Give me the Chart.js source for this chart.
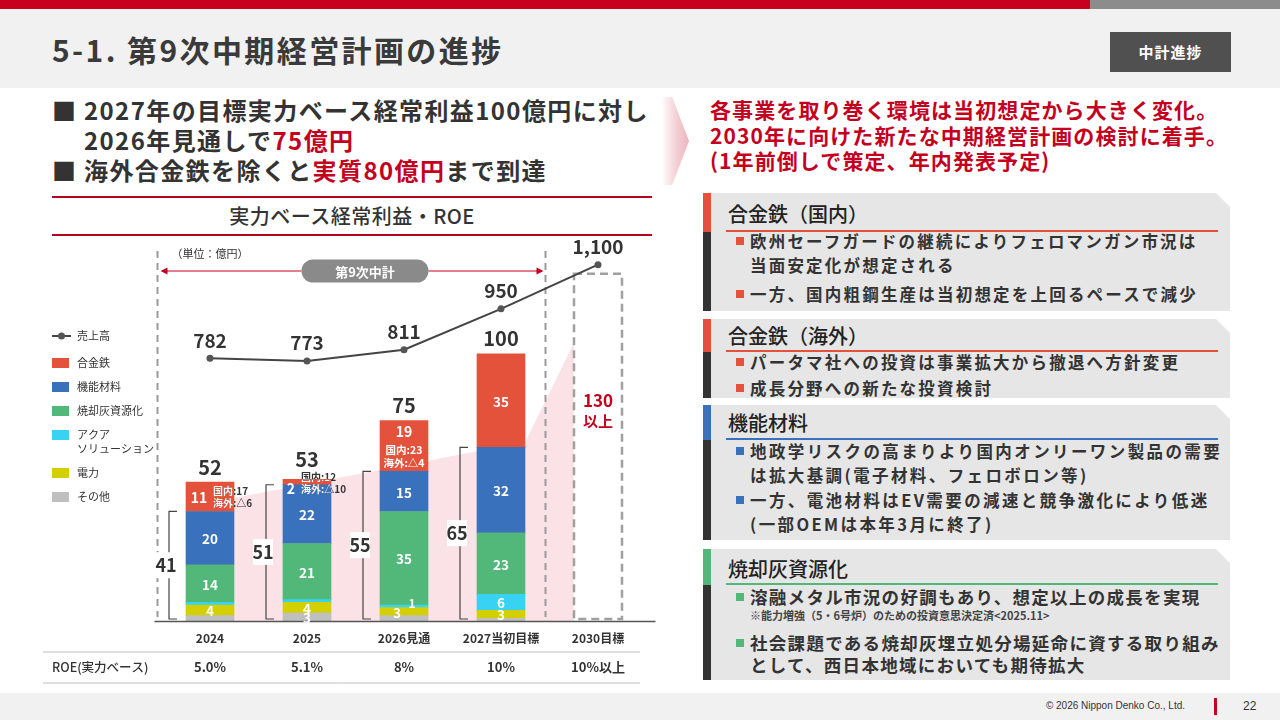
<!DOCTYPE html>
<html lang="ja">
<head>
<meta charset="utf-8">
<script src="https://cdn.jsdelivr.net/npm/chart.js@4.4.1/dist/chart.umd.min.js"></script>
<style>
* { margin: 0; padding: 0; box-sizing: border-box; }
body { width: 1280px; height: 720px; position: relative; overflow: hidden; background: #fff;
  font-family: "Noto Sans CJK JP", "Noto Sans", sans-serif; color: #333; }
.abs { position: absolute; }
.topbar { left: 0; top: 0; width: 1090px; height: 9px; background: #c8001e; }
.topbar2 { left: 1090px; top: 0; width: 190px; height: 9px; background: #8c8c8c; }
.header { left: 0; top: 9px; width: 1280px; height: 79px; background: #f1f1f1; }
.title { left: 52px; top: 29px; font-size: 30px; line-height: 40px; font-weight: 700; color: #3a3a3a; letter-spacing: 2.4px; }
.badge { left: 1110px; top: 32px; width: 121px; height: 40px; background: #505050; color: #fff;
  font-weight: 700; font-size: 15px; text-align: center; line-height: 40px; letter-spacing: 1px; }
.lead { left: 52px; top: 95px; font-size: 24px; line-height: 30px; font-weight: 700; color: #333; letter-spacing: 1.4px; }
.lead div { padding-left: 32px; position: relative; }
.lead .sq { position: absolute; left: 0; }
.red { color: #c4001f; }
.ctitle { left: 52px; top: 196px; width: 600px; height: 40px; border-top: 2px solid #b4001c;
  border-bottom: 2px solid #b4001c; text-align: center; font-size: 20px; line-height: 36px; font-weight: 500; letter-spacing: 0.5px; }
#chartBox { left: 40px; top: 235px; width: 625px; height: 460px; }
.chev { left: 661px; top: 97px; width: 28px; height: 88px;
  background: linear-gradient(90deg, #fff 0%, #f3d0d6 55%, #eeb3bd 100%);
  clip-path: polygon(0 0, 40% 0, 100% 50%, 40% 100%, 0 100%); }
.msg { left: 710px; top: 97px; font-size: 21px; line-height: 25.5px; font-weight: 700; color: #c4001f; letter-spacing: 1.1px; }
.card { left: 703px; width: 527px; background: #e6e6e6;
  clip-path: polygon(0 0, calc(100% - 14px) 0, 100% 14px, 100% 100%, 0 100%); }
.card .bar { position: absolute; left: 0; top: 0; width: 8px; height: 100%; }
.card .ch { position: absolute; left: 25px; height: 28px; line-height: 28px; font-size: 20px; font-weight: 500; color: #222; }
.card .ul { position: absolute; left: 23px; width: 492px; height: 0; border-top: 2px solid; }
.card .li { position: absolute; left: 47px; font-size: 16.5px; line-height: 24px; font-weight: 700; color: #333; letter-spacing: 2.2px; white-space: nowrap; }
.card .li i { position: absolute; left: -14px; top: 8px; width: 8px; height: 8px; }
.card .note { position: absolute; left: 47px; font-size: 11px; line-height: 14px; font-weight: 700; color: #444; white-space: nowrap; }
.footer { left: 0; top: 693px; width: 1280px; height: 27px; background: #f1f1f1; }
.copy { right: 95px; top: 699px; font-size: 10px; line-height: 14px; color: #333; font-family: "Liberation Sans", Arial, sans-serif; }
.pbar { left: 1214px; top: 698px; width: 3px; height: 17px; background: #c8001e; }
.pno { left: 1243px; top: 698px; font-size: 12px; line-height: 16px; color: #333; font-family: "Liberation Sans", Arial, sans-serif; }
</style>
</head>
<body>
<div class="abs topbar"></div>
<div class="abs topbar2"></div>
<div class="abs header"></div>
<div class="abs title">5-1. 第9次中期経営計画の進捗</div>
<div class="abs badge">中計進捗</div>

<div class="abs lead">
  <div><span class="sq">■</span>2027年の目標実力ベース経常利益100億円に対し</div>
  <div>2026年見通しで<span class="red">75億円</span></div>
  <div><span class="sq">■</span>海外合金鉄を除くと<span class="red">実質80億円</span>まで到達</div>
</div>

<div class="abs ctitle">実力ベース経常利益・ROE</div>
<div class="abs" id="chartBox"><canvas id="chart" width="625" height="460"></canvas></div>

<div class="abs chev"></div>
<div class="abs msg">各事業を取り巻く環境は当初想定から大きく変化。<br>2030年に向けた新たな中期経営計画の検討に着手。<br>(1年前倒しで策定、年内発表予定)</div>

<div class="abs card" style="top:193px;height:118px">
  <div class="bar" style="background:linear-gradient(#e5523b 0 39px,#333 39px)"></div>
  <div class="ch" style="top:7px">合金鉄（国内）</div>
  <div class="ul" style="top:37px;border-color:#e5523b"></div>
  <div class="li" style="top:36px"><i style="background:#e5523b"></i>欧州セーフガードの継続によりフェロマンガン市況は<br>当面安定化が想定される</div>
  <div class="li" style="top:89px"><i style="background:#e5523b"></i>一方、国内粗鋼生産は当初想定を上回るペースで減少</div>
</div>

<div class="abs card" style="top:319px;height:79px">
  <div class="bar" style="background:linear-gradient(#e5523b 0 33px,#333 33px)"></div>
  <div class="ch" style="top:3px">合金鉄（海外）</div>
  <div class="ul" style="top:31px;border-color:#e5523b"></div>
  <div class="li" style="top:31px"><i style="background:#e5523b"></i>パータマ社への投資は事業拡大から撤退へ方針変更</div>
  <div class="li" style="top:57px"><i style="background:#e5523b"></i>成長分野への新たな投資検討</div>
</div>

<div class="abs card" style="top:405px;height:135px">
  <div class="bar" style="background:linear-gradient(#3a71bd 0 35px,#333 35px)"></div>
  <div class="ch" style="top:4px">機能材料</div>
  <div class="ul" style="top:33px;border-color:#3a71bd"></div>
  <div class="li" style="top:34px;letter-spacing:2.4px"><i style="background:#3a71bd"></i>地政学リスクの高まりより国内オンリーワン製品の需要<br>は拡大基調(電子材料、フェロボロン等)</div>
  <div class="li" style="top:83px;letter-spacing:2.4px"><i style="background:#3a71bd"></i>一方、電池材料はEV需要の減速と競争激化により低迷<br>(一部OEMは本年3月に終了)</div>
</div>

<div class="abs card" style="top:549px;height:131px">
  <div class="bar" style="background:linear-gradient(#52b879 0 36px,#333 36px)"></div>
  <div class="ch" style="top:6px">焼却灰資源化</div>
  <div class="ul" style="top:34px;border-color:#52b879"></div>
  <div class="li" style="top:36px;font-size:17.5px;letter-spacing:1.3px"><i style="background:#52b879"></i>溶融メタル市況の好調もあり、想定以上の成長を実現</div>
  <div class="note" style="top:59px">※能力増強（5・6号炉）のための投資意思決定済&lt;2025.11&gt;</div>
  <div class="li" style="top:83px;line-height:22px;font-size:17.5px;letter-spacing:1.3px"><i style="background:#52b879;top:7px"></i>社会課題である焼却灰埋立処分場延命に資する取り組み<br>として、西日本地域においても期待拡大</div>
</div>

<div class="abs footer"></div>
<div class="abs copy">© 2026 Nippon Denko Co., Ltd.</div>
<div class="abs pbar"></div>
<div class="abs pno">22</div>

<script>
// 実力ベース経常利益（億円）と売上高
const categories = ['2024', '2025', '2026見通', '2027当初目標', '2030目標'];
const ferroalloy = [11, 2, 19, 35, null];
const functionalMaterials = [20, 22, 15, 32, null];
const ashRecycling = [14, 21, 35, 23, null];
const aquaSolution = [1, 1, 1, 6, null];
const power = [4, 4, 3, 3, null];
const others = [2, 3, 2, 1, null];
const target2030 = [null, null, null, null, 130];
const sales = [782, 773, 811, 950, 1100];
const baseLabels = [41, 51, 55, 65];
const ferroNotes = [['国内:17', '海外:△6'], ['国内:12', '海外:△10'], ['国内:23', '海外:△4'], null];
const roe = ['5.0%', '5.1%', '8%', '10%', '10%以上'];
const targetLabel = ['130', '以上'];
// pink growth band behind the bars: [category index, 億円]
const growthBand = [[0.25, 0], [0.25, 46], [3.25, 67], [3.75, 104], [3.75, 0]];

const FONT = "'Noto Sans CJK JP', 'Noto Sans', sans-serif";
Chart.defaults.font.family = FONT;

const barSeries = [
    { label: 'その他', data: others, color: '#bfbfbf' },
    { label: '電力', data: power, color: '#d4cf00' },
    { label: 'アクア\nソリューション', data: aquaSolution, color: '#38d3f2' },
    { label: '焼却灰資源化', data: ashRecycling, color: '#52b879' },
    { label: '機能材料', data: functionalMaterials, color: '#3a71bd' },
    { label: '合金鉄', data: ferroalloy, color: '#e5523b' }
];
const FERRO = barSeries.length;        // dataset index of 合金鉄 (line is 0)
const TARGET = barSeries.length + 1;

function txt(ctx, s, x, y, size, color, align, weight) {
    ctx.font = `${weight || 'bold'} ${size}px ${FONT}`;
    ctx.fillStyle = color;
    ctx.textAlign = align || 'center';
    ctx.textBaseline = 'middle';
    ctx.fillText(s, x, y);
}

// white inside the bar, dark where the text runs off it
function noteTxt(ctx, s, x, y, rect) {
    txt(ctx, s, x, y, 10, '#333', 'left');
    ctx.save();
    ctx.beginPath();
    ctx.rect(rect.x, rect.y, rect.w, rect.h);
    ctx.clip();
    txt(ctx, s, x, y, 10, '#fff', 'left');
    ctx.restore();
}

const slidePlugin = {
    id: 'slide',
    beforeDatasetsDraw(chart) {
        const { ctx, chartArea: a, scales: { x, y } } = chart;
        ctx.save();
        // growth band
        ctx.fillStyle = '#fbe2e6';
        ctx.beginPath();
        growthBand.forEach(([i, v], k) => {
            const px = x.getPixelForValue(i), py = y.getPixelForValue(v);
            k ? ctx.lineTo(px, py) : ctx.moveTo(px, py);
        });
        ctx.closePath();
        ctx.fill();

        // plan period dashed lines
        const xl = a.left - 4, xr = x.getPixelForValue(3.5) - 4;
        ctx.strokeStyle = '#9a9a9a';
        ctx.lineWidth = 2;
        ctx.setLineDash([7, 5]);
        [xl, xr].forEach(px => {
            ctx.beginPath();
            ctx.moveTo(px, a.top + 4);
            ctx.lineTo(px, a.bottom - 4);
            ctx.stroke();
        });
        ctx.setLineDash([]);

        // arrow + pill
        const ay = a.top + 24, pillL = (xl + xr) / 2 - 50, pillR = pillL + 127;
        ctx.strokeStyle = '#c4001f';
        ctx.fillStyle = '#c4001f';
        ctx.lineWidth = 1;
        ctx.beginPath();
        ctx.moveTo(pillL, ay); ctx.lineTo(xl + 5, ay);
        ctx.moveTo(pillR, ay); ctx.lineTo(xr - 4, ay);
        ctx.stroke();
        ctx.beginPath();
        ctx.moveTo(xl + 3, ay); ctx.lineTo(xl + 10, ay - 3.5); ctx.lineTo(xl + 10, ay + 3.5);
        ctx.moveTo(xr - 2, ay); ctx.lineTo(xr - 9, ay - 3.5); ctx.lineTo(xr - 9, ay + 3.5);
        ctx.fill();
        ctx.fillStyle = '#8a8a8a';
        ctx.beginPath();
        ctx.roundRect(pillL, ay - 11.5, pillR - pillL, 23, 11.5);
        ctx.fill();
        txt(ctx, '第9次中計', (pillL + pillR) / 2, ay + 1, 13, '#fff');
        txt(ctx, '（単位：億円）', a.left + 10, a.top + 7, 11, '#333', 'left', 'normal');
        ctx.restore();
    },
    afterDatasetDraw(chart, args) {
        if (args.index !== TARGET) return;
        const { ctx } = chart;
        const el = args.meta.data[4];
        ctx.save();
        ctx.strokeStyle = '#a0a0a0';
        ctx.lineWidth = 2.5;
        ctx.setLineDash([8, 5]);
        ctx.strokeRect(el.x - el.width / 2, el.y, el.width, el.base - el.y - 2);
        ctx.restore();
        const cy = (el.y + el.base) / 2 - 47;
        txt(ctx, targetLabel[0], el.x, cy, 17, '#c4001f');
        txt(ctx, targetLabel[1], el.x, cy + 21, 15, '#c4001f');
    },
    afterDatasetsDraw(chart) {
        const { ctx, chartArea: a, scales: { x, y } } = chart;
        ctx.save();
        // baseline
        ctx.strokeStyle = '#555';
        ctx.lineWidth = 1.5;
        ctx.beginPath();
        ctx.moveTo(a.left - 7, a.bottom + 0.5);
        ctx.lineTo(a.right + 9, a.bottom + 0.5);
        ctx.stroke();

        // segment values
        barSeries.forEach((s, k) => {
            const meta = chart.getDatasetMeta(k + 1);
            s.data.forEach((v, j) => {
                if (v == null) return;
                const el = meta.data[j];
                const cy = (el.y + el.base) / 2;
                if (k + 1 === FERRO && ferroNotes[j]) return;
                if (s.data === power && j === 2) {
                    txt(ctx, String(v), el.x - 7, cy + 1, 13, '#fff');
                    return;
                }
                if (s.data === aquaSolution && j === 2) {
                    txt(ctx, String(v), el.x + 8, cy - 3, 12, '#fff');
                    return;
                }
                if (v >= 3) txt(ctx, String(v), el.x, cy + 1, 13.5, '#fff');
            });
        });

        // 合金鉄 with 国内/海外 breakdown
        const fm = chart.getDatasetMeta(FERRO);
        ferroNotes.forEach((note, j) => {
            if (!note) return;
            const el = fm.data[j], v = ferroalloy[j];
            const cy = (el.y + el.base) / 2;
            const rect = { x: el.x - el.width / 2, y: el.y, w: el.width, h: a.bottom - el.y };
            if (j === 0) {
                txt(ctx, String(v), el.x - 11, cy + 1, 14, '#fff');
                noteTxt(ctx, note[0], el.x + 3, cy - 6, rect);
                noteTxt(ctx, note[1], el.x + 3, cy + 6, rect);
            } else if (j === 1) {
                txt(ctx, String(v), el.x - 16, el.y + 9, 14, '#fff');
                noteTxt(ctx, note[0], el.x - 6, el.y - 2, rect);
                noteTxt(ctx, note[1], el.x - 6, el.y + 10, rect);
            } else {
                txt(ctx, String(v), el.x, el.y + 11, 14, '#fff');
                txt(ctx, note[0], el.x, el.y + 29, 10.5, '#fff');
                txt(ctx, note[1], el.x, el.y + 42, 10.5, '#fff');
            }
        });

        // totals, brackets
        baseLabels.forEach((lab, j) => {
            const el = fm.data[j];
            const total = barSeries.reduce((t, s) => t + (s.data[j] || 0), 0);
            txt(ctx, String(total), el.x, y.getPixelForValue(total) - (j === 1 ? 20 : 15), 20, '#333');
            const bx = el.x - el.width / 2 - 17, top = el.base, bot = a.bottom - 2;
            ctx.strokeStyle = '#444';
            ctx.lineWidth = 1.2;
            ctx.beginPath();
            ctx.moveTo(bx + 8, top); ctx.lineTo(bx, top); ctx.lineTo(bx, bot); ctx.lineTo(bx + 8, bot);
            ctx.stroke();
            const my = (top + bot) / 2;
            ctx.fillStyle = '#fff';
            ctx.fillRect(bx - 13, my - 13, 20, 26);
            txt(ctx, String(lab), bx - 3, my, 18, '#333');
        });

        // sales labels
        const lm = chart.getDatasetMeta(0);
        sales.forEach((v, j) => {
            const p = lm.data[j];
            txt(ctx, v.toLocaleString('en-US'), p.x, p.y - 18, 19, '#333');
        });

        // legend
        let ly = 101;
        ctx.strokeStyle = '#444';
        ctx.lineWidth = 2;
        ctx.beginPath(); ctx.moveTo(12, ly); ctx.lineTo(31, ly); ctx.stroke();
        ctx.fillStyle = '#555';
        ctx.beginPath(); ctx.arc(21.5, ly, 3.5, 0, Math.PI * 2); ctx.fill();
        txt(ctx, chart.data.datasets[0].label, 37, ly, 11, '#333', 'left', 'normal');
        ly += 27;
        barSeries.slice().reverse().forEach(s => {
            ctx.fillStyle = s.color;
            ctx.fillRect(12, ly - 5, 17, 10);
            const lines = s.label.split('\n');
            lines.forEach((t, n) => txt(ctx, t, 37, ly + n * 14, 11, '#333', 'left', 'normal'));
            ly += 24 + (lines.length - 1) * 14;
        });

        // ROE row
        const r1 = a.bottom + 31, r2 = a.bottom + 62;
        ctx.strokeStyle = '#bdbdbd';
        ctx.lineWidth = 1;
        ctx.beginPath();
        ctx.moveTo(3, r1); ctx.lineTo(600, r1);
        ctx.moveTo(3, r2); ctx.lineTo(600, r2);
        ctx.stroke();
        txt(ctx, 'ROE(実力ベース)', 12, (r1 + r2) / 2, 12.5, '#333', 'left', '500');
        roe.forEach((s, j) => txt(ctx, s, x.getPixelForValue(j), (r1 + r2) / 2, 13, '#333'));
        ctx.restore();
    }
};

new Chart(document.getElementById('chart'), {
    data: {
        labels: categories,
        datasets: [
            {
                type: 'line', label: '売上高', data: sales, yAxisID: 'y2', order: 0,
                borderColor: '#444', borderWidth: 2, pointRadius: 3.5,
                pointBackgroundColor: '#555', pointBorderWidth: 0
            },
            ...barSeries.map(s => ({
                type: 'bar', label: s.label, data: s.data, backgroundColor: s.color,
                stack: 'profit', order: 1, barThickness: 48, borderWidth: 0
            })),
            {
                type: 'bar', label: '2030目標', data: target2030, backgroundColor: 'rgba(0,0,0,0)',
                stack: 'profit', order: 2, barThickness: 48
            }
        ]
    },
    options: {
        responsive: false,
        animation: false,
        layout: { padding: { left: 121.5, right: 18.5, top: 12, bottom: 40 } },
        plugins: { legend: { display: false }, tooltip: { enabled: false } },
        scales: {
            x: {
                stacked: true,
                grid: { display: false, drawTicks: false },
                border: { display: false },
                ticks: { color: '#333', font: { weight: 'bold', size: 12 }, padding: 10 },
                afterFit: s => { s.height = 34; }
            },
            y: { stacked: true, display: false, min: 0, max: 140 },
            y2: { display: false, min: -110, max: 1160 }
        }
    },
    plugins: [slidePlugin]
});
</script>
</body>
</html>
